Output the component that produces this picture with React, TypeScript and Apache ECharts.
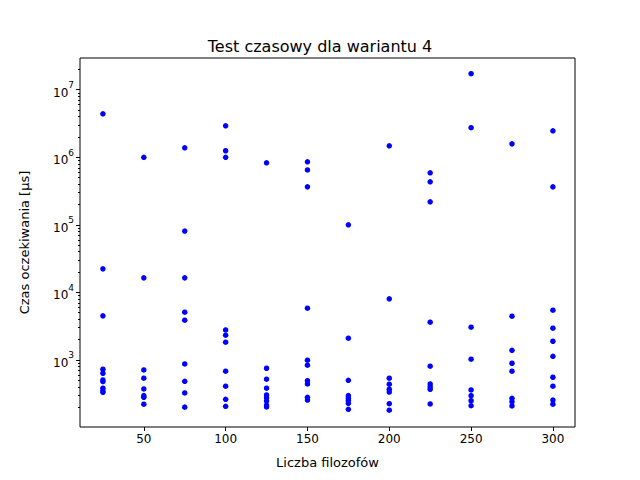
import React, { useEffect, useRef } from "react";
import * as echarts from "echarts";

const xs = [25, 50, 75, 100, 125, 150, 175, 200, 225, 250, 275, 300];
const values: number[][] = [
  [4400000, 22300, 4490, 728, 635, 506, 478, 381, 351, 332],
  [1000000, 16400, 711, 536, 372, 296, 280, 221],
  [1380000, 81000, 16400, 5090, 3870, 872, 483, 324, 200],
  [2930000, 1250000, 1000000, 2780, 2320, 1830, 680, 408, 261, 206],
  [830000, 753, 518, 381, 303, 276, 247, 215, 201],
  [857000, 650000, 365000, 5830, 990, 835, 493, 441, 280, 255],
  [100000, 2100, 500, 296, 270, 250, 228, 186],
  [1480000, 8020, 536, 437, 368, 335, 225, 180],
  [590000, 434000, 219000, 3620, 807, 441, 401, 368, 223],
  [17300000, 2740000, 3050, 1024, 359, 296, 249, 210],
  [1580000, 4440, 1390, 893, 680, 270, 241, 208],
  [2470000, 365000, 5440, 2950, 1890, 1130, 554, 408, 255, 221],
];
const majorExp = [3, 4, 5, 6, 7];
const xTicks = [50, 100, 150, 200, 250, 300];

export default function App() {
  const ref = useRef<HTMLDivElement>(null);
  useEffect(() => {
    const chart = echarts.init(ref.current!, undefined, { renderer: "svg" });
    const yMin = 2.007, yMax = 7.47;
    const minor: number[] = [];
    for (let e = 2; e <= 7; e++)
      for (let k = 2; k <= 9; k++) {
        const v = e + Math.log10(k);
        if (v > yMin && v < yMax) minor.push(v);
      }
    const pts: number[][] = [];
    xs.forEach((x, i) => values[i].forEach((v) => pts.push([x, Math.log10(v)])));
    const font = "DejaVu Sans";
    chart.setOption({
      animation: false,
      title: {
        text: "Test czasowy dla wariantu 4",
        left: "center",
        top: 33,
        textStyle: { fontFamily: font, fontSize: 16, fontWeight: "normal", color: "#000" },
      },
      grid: { left: 80, right: 65, top: 58, bottom: 53, show: true, borderColor: "#000", borderWidth: 1, backgroundColor: "#fff" },
      xAxis: {
        type: "value",
        min: 11,
        max: 313.5,
        name: "Liczba filozofów",
        nameLocation: "middle",
        nameGap: 29,
        nameTextStyle: { fontFamily: font, fontSize: 13, color: "#000" },
        splitLine: { show: false },
        axisLine: { show: false },
        axisTick: { show: true, length: 4, customValues: xTicks, lineStyle: { color: "#000" } },
        axisLabel: { customValues: xTicks, fontFamily: font, fontSize: 12, color: "#000", margin: 6 },
      },
      yAxis: [
        {
          type: "value",
          min: yMin,
          max: yMax,
          name: "Czas oczekiwania [µs]",
          nameLocation: "middle",
          nameGap: 49,
          nameTextStyle: { fontFamily: font, fontSize: 13, color: "#000" },
          splitLine: { show: false },
          axisLine: { show: false },
          axisTick: { show: true, length: 4, customValues: majorExp, lineStyle: { color: "#000" } },
          axisLabel: {
            customValues: majorExp,
            margin: 6,
            formatter: (v: number) => `{b|10}{e|${Math.round(v)}}`,
            rich: {
              b: { fontFamily: font, fontSize: 12, color: "#000", verticalAlign: "bottom", padding: [6, 0, 0, 0] },
              e: { fontFamily: font, fontSize: 9, color: "#000", verticalAlign: "top", padding: [0, 0, 6, 0] },
            },
          },
        },
        {
          type: "value",
          min: yMin,
          max: yMax,
          position: "left",
          splitLine: { show: false },
          axisLine: { show: false },
          axisTick: { show: true, length: 2, customValues: minor, lineStyle: { color: "#000" } },
          axisLabel: { show: false, customValues: minor },
        },
      ],
      series: [
        {
          type: "scatter",
          data: pts,
          symbolSize: 5.5,
          itemStyle: { color: "#0000ff", opacity: 1 },
        },
      ],
    });
    return () => chart.dispose();
  }, []);
  return <div ref={ref} style={{ position: "fixed", left: 0, top: 0, width: 640, height: 480, background: "#fff" }} />;
}
